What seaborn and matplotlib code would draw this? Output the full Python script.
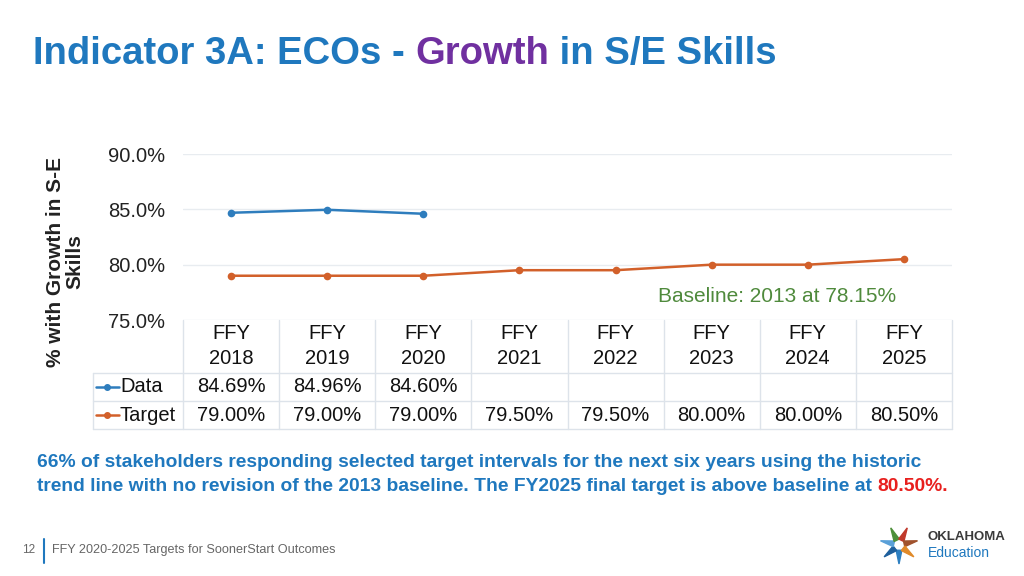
import matplotlib
matplotlib.use("Agg")
import matplotlib.pyplot as plt
import numpy as np
import pandas as pd
import seaborn as sns
from matplotlib.lines import Line2D
from matplotlib.patches import Polygon

# chart values
years = ['FFY\n2018', 'FFY\n2019', 'FFY\n2020', 'FFY\n2021',
         'FFY\n2022', 'FFY\n2023', 'FFY\n2024', 'FFY\n2025']
data_vals = [84.69, 84.96, 84.60, np.nan, np.nan, np.nan, np.nan, np.nan]
target_vals = [79.00, 79.00, 79.00, 79.50, 79.50, 80.00, 80.00, 80.50]
yticks = [75, 80, 85, 90]

blue = '#2e7dbd'
orange = '#d2602a'
title_blue = '#1f78be'
purple = '#7030a0'
grid_c = '#e8ecf0'
table_c = '#dde3ea'
fs = 14.5

sns.set_style("white")
plt.rcParams['font.family'] = ['Liberation Sans', 'DejaVu Sans']

df = pd.DataFrame({'x': np.arange(len(years)), 'Data': data_vals, 'Target': target_vals})

fig = plt.figure(figsize=(10.24, 5.76), dpi=100)
ax = fig.add_axes([183 / 1024, 1 - 320 / 576, 769 / 1024, 166 / 576])

sns.lineplot(data=df, x='x', y='Data', ax=ax, color=blue, marker='o',
             markersize=5.5, markeredgewidth=0, linewidth=1.8)
sns.lineplot(data=df, x='x', y='Target', ax=ax, color=orange, marker='o',
             markersize=5.5, markeredgewidth=0, linewidth=1.8)

ax.set_xlim(-0.5, len(years) - 0.5)
ax.set_ylim(75, 90)
ax.set_yticks(yticks)
ax.set_yticklabels([f'{v:.1f}%' for v in yticks], fontsize=fs, color='#222222')
ax.tick_params(axis='y', length=0, pad=13)
ax.set_xticks([])
ax.set_xlabel('')
ax.set_ylabel('')
ax.grid(axis='y', color=grid_c, linewidth=1)
for s in ax.spines.values():
    s.set_visible(False)

# data table under the chart
tr = ax.get_xaxis_transform()
x_left = -0.5 + (93 - 183) / 96.1
r1, r2, r3 = -0.319, -0.488, -0.657
for yy in [r1, r2, r3]:
    ax.add_line(Line2D([x_left, len(years) - 0.5], [yy, yy], transform=tr,
                       color=table_c, lw=1, clip_on=False))
ax.add_line(Line2D([x_left, x_left], [r1, r3], transform=tr, color=table_c, lw=1, clip_on=False))
for i in range(len(years) + 1):
    ax.add_line(Line2D([i - 0.5, i - 0.5], [0, r3], transform=tr, color=table_c, lw=1,
                       clip_on=False))

for i, lab in enumerate(years):
    ax.text(i, r1 / 2, lab, transform=tr, ha='center', va='center', fontsize=fs,
            linespacing=1.4, color='#111111')
    if not np.isnan(data_vals[i]):
        ax.text(i, (r1 + r2) / 2, f'{data_vals[i]:.2f}%', transform=tr,
                ha='center', va='center', fontsize=fs, color='#111111')
    ax.text(i, (r2 + r3) / 2, f'{target_vals[i]:.2f}%', transform=tr,
            ha='center', va='center', fontsize=fs, color='#111111')

for name, col, yy in [('Data', blue, (r1 + r2) / 2), ('Target', orange, (r2 + r3) / 2)]:
    x0 = x_left + 0.03
    ax.add_line(Line2D([x0, x0 + 0.24], [yy, yy], transform=tr, color=col, lw=1.8,
                       clip_on=False))
    ax.add_line(Line2D([x0 + 0.12], [yy], transform=tr, color=col, marker='o',
                       markersize=4, clip_on=False))
    ax.text(x0 + 0.25, yy, name, transform=tr, ha='left', va='center', fontsize=fs,
            color='#111111')

# baseline note
ax.text(6.92, 77.1, 'Baseline: 2013 at 78.15%', ha='right', va='center',
        fontsize=15, color='#4f8a3c')

# y label
fig.text(65 / 1024, 1 - 262 / 576, '% with Growth in S-E\nSkills', rotation=90,
         ha='center', va='center', fontsize=15, fontweight='bold', color='#222222',
         multialignment='center', linespacing=1.05)

# title in three colours
fig.canvas.draw()
rend = fig.canvas.get_renderer()
x = 33 / 1024
for part, col in [('Indicator 3A: ECOs - ', title_blue), ('Growth', purple),
                  (' in S/E Skills', title_blue)]:
    t = fig.text(x, 1 - 64 / 576, part, fontsize=27.5, fontweight='bold', color=col,
                 ha='left', va='baseline')
    bb = t.get_window_extent(renderer=rend)
    x += bb.width / fig.bbox.width

# footnote
fn = 13.85
line1 = ('66% of stakeholders responding selected target intervals for the next six years '
         'using the historic')
fig.text(37 / 1024, 1 - 467 / 576, line1, fontsize=fn, fontweight='bold', color=title_blue,
         ha='left', va='baseline')
t = fig.text(37 / 1024, 1 - 491 / 576,
             'trend line with no revision of the 2013 baseline. The FY2025 final target is '
             'above baseline at ', fontsize=fn, fontweight='bold', color=title_blue,
             ha='left', va='baseline')
bb = t.get_window_extent(renderer=rend)
fig.text(37 / 1024 + bb.width / fig.bbox.width, 1 - 491 / 576, '80.50%.', fontsize=fn,
         fontweight='bold', color='#e8201e', ha='left', va='baseline')

# footer
fig.text(22 / 1024, 1 - 550 / 576, '12', fontsize=8.5, color='#666666', ha='left', va='center')
fig.add_artist(Line2D([44 / 1024, 44 / 1024], [1 - 539 / 576, 1 - 563 / 576],
                      color=title_blue, lw=1.5))
fig.text(52 / 1024, 1 - 550 / 576, 'FFY 2020-2025 Targets for SoonerStart Outcomes',
         fontsize=9.1, color='#666666', ha='left', va='center')

# logo
cx, cy = 899, 545
petal_cols = ['#2d7fc1', '#1e5f9c', '#5aa0d8', '#4d8f3a', '#c0392b', '#a0522d', '#e08a2a']
for k, pc in enumerate(petal_cols):
    a = np.pi / 2 + k * 2 * np.pi / 7
    pts = [(cx + 6 * np.cos(a - 0.5), cy + 6 * np.sin(a - 0.5)),
           (cx + 19 * np.cos(a), cy + 19 * np.sin(a)),
           (cx + 6 * np.cos(a + 0.5), cy + 6 * np.sin(a + 0.5))]
    pts = [(px / 1024, 1 - py / 576) for px, py in pts]
    fig.add_artist(Polygon(pts, closed=True, color=pc, transform=fig.transFigure))
fig.text(928 / 1024, 1 - 537 / 576, 'OKLAHOMA', fontsize=9.5, fontweight='bold',
         color='#3a3a3a', ha='left', va='center')
fig.text(928 / 1024, 1 - 553 / 576, 'Education', fontsize=10, color=title_blue,
         ha='left', va='center')

fig.savefig('out.png', dpi=100)
